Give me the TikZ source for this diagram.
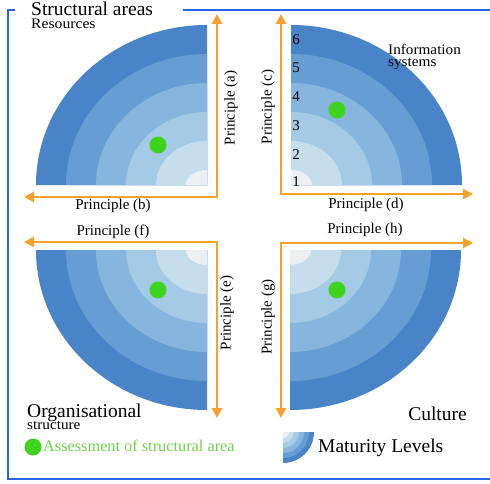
\documentclass[tikz,border=0pt]{standalone}
\usepackage{fontspec}
\setmainfont{Liberation Serif}
\usetikzlibrary{arrows.meta}
\definecolor{ringsix}{RGB}{72,132,199}
\definecolor{ringfive}{RGB}{102,158,211}
\definecolor{ringfour}{RGB}{134,182,221}
\definecolor{ringthree}{RGB}{164,202,229}
\definecolor{ringtwo}{RGB}{198,222,236}
\definecolor{ringone}{RGB}{236,240,243}
\definecolor{framblue}{RGB}{40,100,225}
\definecolor{arrorange}{RGB}{247,162,42}
\definecolor{dotgreen}{RGB}{62,212,30}
\definecolor{txtgreen}{RGB}{115,210,75}
\tikzset{
  arr/.style={draw=arrorange, line width=2.6pt, {Triangle[length=10pt,width=10pt]}-{Triangle[length=10pt,width=10pt]}},
  princ/.style={font=\fontsize{15}{17}\selectfont, inner sep=0pt},
  bigt/.style={font=\fontsize{19.5}{21}\selectfont, inner sep=0pt, anchor=base west},
  midt/.style={font=\fontsize{14.5}{16}\selectfont, inner sep=0pt, anchor=base west},
  num/.style={font=\fontsize{15}{17}\selectfont, inner sep=0pt},
  gdot/.style={circle, fill=dotgreen, minimum size=17pt, inner sep=0pt},
}
\begin{document}
\begin{tikzpicture}[x=1pt,y=1pt]
\useasboundingbox[fill=white] (0,0) rectangle (490,-484);
% frame
\draw[framblue, line width=2.5pt] (15,-10) -- (8,-10) -- (8,-479) -- (490,-479);
\draw[framblue, line width=2.5pt] (183,-10) -- (490,-10);
% quadrants of maturity rings
\foreach \rx/\ry/\col in {171/160/ringsix,141/131/ringfive,111/102/ringfour,81/73/ringthree,51/44/ringtwo,21/15/ringone}{
  \fill[\col] (207,-185) -- ++(0,\ry) arc[start angle=90, end angle=180, x radius=\rx, y radius=\ry] -- cycle;
  \fill[\col] (291,-185) -- ++(\rx,0) arc[start angle=0, end angle=90, x radius=\rx, y radius=\ry] -- cycle;
  \fill[\col] (207,-250) -- ++(-\rx,0) arc[start angle=180, end angle=270, x radius=\rx, y radius=\ry] -- cycle;
  \fill[\col] (290,-250) -- ++(0,-\ry) arc[start angle=270, end angle=360, x radius=\rx, y radius=\ry] -- cycle;}
% arrows
\coordinate (tlc) at (217,-197); \coordinate (tlu) at (217,-14); \coordinate (tll) at (24,-197);
\coordinate (trc) at (281,-194); \coordinate (tru) at (281,-14); \coordinate (trr) at (473,-194);
\coordinate (blc) at (217,-242); \coordinate (bll) at (24,-242); \coordinate (bld) at (217,-418);
\coordinate (brc) at (281,-243); \coordinate (brr) at (473,-243); \coordinate (brd) at (281,-418);
\draw[arr] (tlu) -- (tlc) -- (tll);
\draw[arr] (tru) -- (trc) -- (trr);
\draw[arr] (bll) -- (blc) -- (bld);
\draw[arr] (brr) -- (brc) -- (brd);
% principle labels
\node[princ, rotate=90] (pa) at (231,-108) {Principle (a)};
\node[princ] (pb) at (113,-206) {Principle (b)};
\node[princ, rotate=90] (pc) at (268,-107) {Principle (c)};
\node[princ] (pd) at (366,-205) {Principle (d)};
\node[princ, rotate=90] (pe) at (227,-313) {Principle (e)};
\node[princ] (pf) at (113,-232) {Principle (f)};
\node[princ, rotate=90] (pg) at (268,-317) {Principle (g)};
\node[princ] (ph) at (365,-230) {Principle (h)};
% numbers
\foreach \n/\yy in {6/40,5/68,4/97,3/126,2/155,1/182}{
  \node[num] (n\n) at (296,-\yy) {\n};}
% dots
\node[gdot] (d1) at (158,-145) {};
\node[gdot] (d2) at (337,-110) {};
\node[gdot] (d3) at (158,-290) {};
\node[gdot] (d4) at (337,-290) {};
% titles
\node[bigt] (sa) at (31,-15.5) {Structural areas};
\node[midt, xscale=1.08] (res) at (31,-28.5) {Resources};
\node[midt, xscale=1.05] (inf1) at (388,-54.5) {Information};
\node[midt, xscale=1.05] (inf2) at (388,-66.5) {systems};
\node[bigt] (org) at (27,-417) {Organisational};
\node[midt, xscale=1.05] (orgs) at (27,-429.5) {structure};
\node[bigt, anchor=base east] (cul) at (467,-420) {Culture};
% legend
\node[gdot] (ld) at (33,-447) {};
\node[midt, text=txtgreen, font=\fontsize{16.3}{18}\selectfont] (lt) at (43,-451) {Assessment of structural area};
\foreach \r/\col in {31/ringsix,26/ringfive,21/ringfour,16/ringthree,11/ringtwo,6/ringone}{
  \fill[\col] (283,-432) -- ++(0,-\r) arc[start angle=270, end angle=360, radius=\r] -- cycle;}
\node[bigt] (ml) at (318,-452) {Maturity Levels};
\end{tikzpicture}
\end{document}
